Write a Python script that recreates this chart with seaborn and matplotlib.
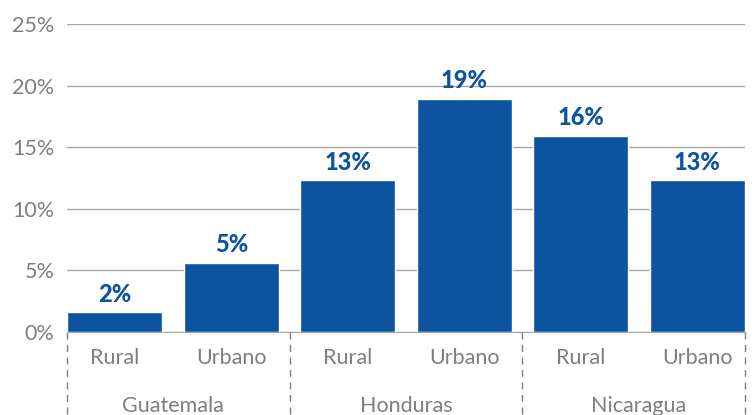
import matplotlib
matplotlib.use("Agg")
import matplotlib.pyplot as plt
import seaborn as sns
import pandas as pd

countries = ["Guatemala", "Honduras", "Nicaragua"]
areas = ["Rural", "Urbano", "Rural", "Urbano", "Rural", "Urbano"]
values = [1.6, 5.6, 12.3, 18.9, 15.9, 12.3]
value_labels = ["2%", "5%", "13%", "19%", "16%", "13%"]
y_ticks = [0, 5, 10, 15, 20, 25]

BLUE = "#0c53a0"
GREY = "#7f7f7f"

df = pd.DataFrame({"key": [str(i) for i in range(len(values))], "value": values})

sns.set_style("white")
plt.rcParams["font.family"] = ["Lato", "DejaVu Sans"]

fig = plt.figure(figsize=(7.52, 4.15), dpi=100)
ax = fig.add_axes([67 / 752, 1 - 332 / 415, (745 - 67) / 752, (332 - 24) / 415])

sns.barplot(data=df, x="key", y="value", color=BLUE, saturation=1,
            width=0.815, ax=ax, zorder=3)

ax.set_xlim(-0.41, len(values) - 0.59)
ax.set_ylim(0, 25)
ax.set_yticks(y_ticks)
ax.set_yticklabels([f"{t}%" for t in y_ticks], fontsize=15.5, color=GREY)
ax.yaxis.grid(True, color="#a6a6a6", linewidth=1, zorder=0)
ax.tick_params(axis="y", length=0, pad=9)
ax.set_xticks([])
ax.set_xlabel("")
ax.set_ylabel("")
for s in ["top", "right", "left"]:
    ax.spines[s].set_visible(False)
ax.spines["bottom"].set_color("#a6a6a6")

for i, (v, lab) in enumerate(zip(values, value_labels)):
    ax.text(i, v + 0.55, lab, ha="center", va="bottom", fontsize=17,
            fontweight="black", color=BLUE)

# category labels below axis
for i, a in enumerate(areas):
    ax.text(i, -2.15, a, ha="center", va="center", fontsize=15.5, color=GREY)
for j, c in enumerate(countries):
    ax.text(2 * j + 0.5, -6.0, c, ha="center", va="center", fontsize=15.5, color=GREY)

# dashed separators
for xs in [-0.41, 1.5, 3.5, len(values) - 0.59]:
    ax.plot([xs, xs], [0, -7.0], color=GREY, linestyle=(0, (5, 4)),
            linewidth=1, clip_on=False)

fig.savefig("out.png", dpi=100)
